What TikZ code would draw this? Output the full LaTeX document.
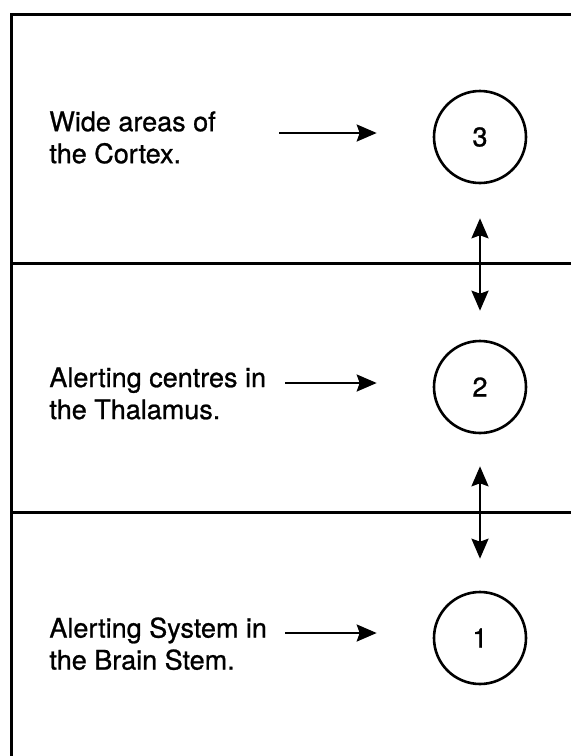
\documentclass[tikz,border=0pt]{standalone}
\usepackage{fontspec}
\setmainfont{TeX Gyre Heros}[FakeBold=0.9]
\usetikzlibrary{arrows.meta}

\tikzset{
  stage/.style={circle, draw, line width=1.3pt, minimum size=46pt, inner sep=0pt},
  blurb/.style={align=left, inner sep=0pt, anchor=north west},
  feed/.style={-{Stealth[length=10pt,width=8.5pt,inset=1.5pt]}, line width=1.2pt},
  link/.style={{Stealth[length=10pt,width=8.5pt,inset=1.5pt]}-{Stealth[length=10pt,width=8.5pt,inset=1.5pt]}, line width=1.2pt},
  rule/.style={line width=1.5pt}
}

\begin{document}
\begin{tikzpicture}[x=0.5pt, y=-0.5pt, font=\fontsize{13.5}{16}\selectfont]

  \useasboundingbox (0,0) rectangle (571,756);

  % frame and level dividers
  \draw[rule] (11,760) -- (11,14) -- (575,14);
  \draw[rule] (11,263) -- (575,263);
  \draw[rule] (11,512) -- (575,512);

  \node [stage] (c3) at (480,137) {3};
  \node [stage] (c2) at (480,387) {2};
  \node [stage] (c1) at (480,638) {1};

  \node [blurb] (t3) at (49,111) {Wide areas of\\the Cortex.};
  \node [blurb] (t2) at (49,367) {Alerting centres in\\the Thalamus.};
  \node [blurb] (t1) at (49,617) {Alerting System in\\the Brain Stem.};

  \coordinate (s3) at (279,133);
  \coordinate (s2) at (285,383);
  \coordinate (s1) at (285,633);

  \draw [feed, shorten >=28pt] (s3) -- (s3 -| c3.west);
  \draw [feed, shorten >=28pt] (s2) -- (s2 -| c2.west);
  \draw [feed, shorten >=28pt] (s1) -- (s1 -| c1.west);

  \draw [link, shorten <=17pt, shorten >=14.5pt] (c3.south) -- (c2.north);
  \draw [link, shorten <=16pt, shorten >=16pt] (c2.south) -- (c1.north);

\end{tikzpicture}
\end{document}
